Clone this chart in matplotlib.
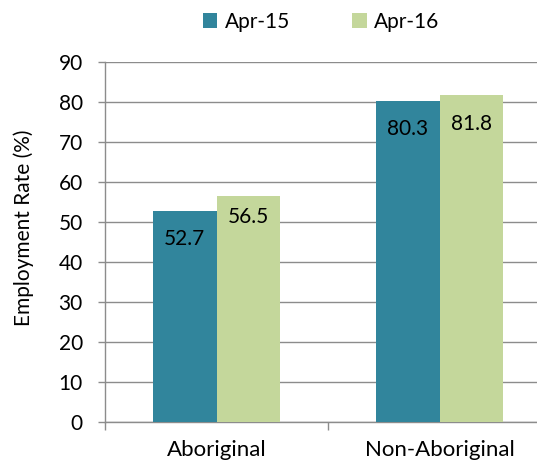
import matplotlib

matplotlib.use("Agg")
import matplotlib.pyplot as plt
import numpy as np

categories = ["Aboriginal", "Non-Aboriginal"]
series = ["Apr-15", "Apr-16"]
apr15 = [52.7, 80.3]
apr16 = [56.5, 81.8]
yticks = [0, 10, 20, 30, 40, 50, 60, 70, 80, 90]

TEAL = "#31859c"
GREEN = "#c4d79b"
GRID = "#8c8c8c"
INK = "#000000"

plt.rcParams["font.family"] = ["Lato", "DejaVu Sans"]

fig = plt.figure(figsize=(5.37, 4.63), dpi=100)
ax = fig.add_axes([105 / 537, 41 / 463, 446 / 537, 360 / 463])

x = np.arange(len(categories))
w = 0.285
b1 = ax.bar(x - w / 2, apr15, w, color=TEAL, label=series[0], zorder=3)
b2 = ax.bar(x + w / 2, apr16, w, color=GREEN, label=series[1], zorder=3)

# label drop below bar top (points), as placed in the source chart
drops = {(0, 0): 13, (0, 1): 8, (1, 0): 13, (1, 1): 14}
for si, (bars, vals) in enumerate(((b1, apr15), (b2, apr16))):
    for ci, (rect, v) in enumerate(zip(bars, vals)):
        ax.annotate(f"{v:.1f}", (rect.get_x() + rect.get_width() / 2, v),
                    xytext=(0, -drops[(ci, si)]), textcoords="offset points",
                    ha="center", va="top", fontsize=15, color=INK, zorder=4)

ax.set_xlim(-0.5, 1.5)
ax.set_ylim(0, 90)
ax.set_yticks(yticks)
ax.yaxis.grid(True, color=GRID, linewidth=1.0, zorder=0)
ax.set_axisbelow(True)

ax.set_xticks(x)
ax.set_xticklabels(categories)
ax.set_xticks([-0.5, 0.5, 1.5], minor=True)
ax.tick_params(axis="x", which="major", length=0, pad=13, labelsize=16)
ax.tick_params(axis="x", which="minor", length=6, width=1, color=GRID,
               direction="out")
ax.tick_params(axis="y", length=5, width=1, color=GRID, pad=11, labelsize=15)

for s in ("top", "right"):
    ax.spines[s].set_visible(False)
for s in ("left", "bottom"):
    ax.spines[s].set_color(GRID)
    ax.spines[s].set_linewidth(1.0)

fig.text(24 / 537, 1 - 228 / 463, "Employment Rate (%)", rotation=90,
         ha="center", va="center", fontsize=15)

fig.legend(loc="center", bbox_to_anchor=(321 / 537, 1 - 22 / 463),
           ncol=2, frameon=False, fontsize=15, handlelength=0.7,
           handleheight=0.7, handletextpad=0.35, columnspacing=3.0)

fig.savefig("out.png", dpi=100)
